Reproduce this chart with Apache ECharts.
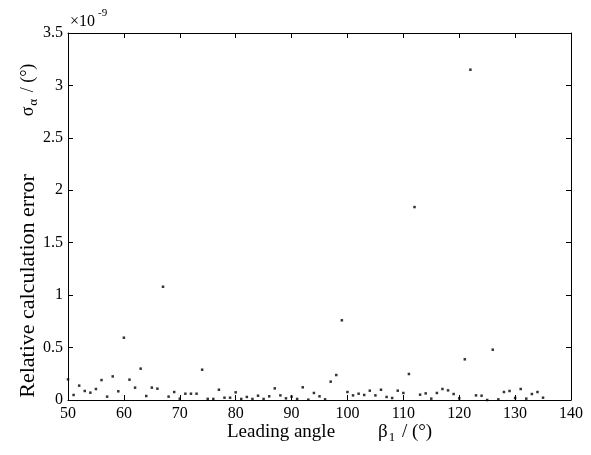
<!DOCTYPE html>
<html>
<head>
<meta charset="utf-8">
<script src="https://cdn.jsdelivr.net/npm/echarts@6/dist/echarts.min.js"></script>
<style>html,body{margin:0;padding:0;background:#fff;}#c{width:591px;height:455px;}</style>
</head>
<body>
<div id="c"></div>
<script>
// Leading angle beta_1 (degrees)
const angles = [50,51,52,53,54,55,56,57,58,59,60,61,62,63,64,65,66,67,68,69,70,71,72,73,74,75,76,77,78,79,80,81,82,83,84,85,86,87,88,89,90,91,92,93,94,95,96,97,98,99,100,101,102,103,104,105,106,107,108,109,110,111,112,113,114,115,116,117,118,119,120,121,122,123,124,125,126,127,128,129,130,131,132,133,134,135];
// Relative calculation error, in units of 1e-9
const errors = [0.197,0.048,0.137,0.086,0.07,0.105,0.19,0.032,0.225,0.083,0.594,0.194,0.118,0.299,0.038,0.118,0.108,1.08,0.032,0.076,0.013,0.06,0.06,0.06,0.289,0.011,0.01,0.098,0.022,0.022,0.073,0.01,0.029,0.01,0.041,0.01,0.035,0.111,0.044,0.016,0.032,0.01,0.121,0.003,0.067,0.035,0.006,0.175,0.238,0.76,0.076,0.044,0.06,0.048,0.089,0.044,0.098,0.029,0.019,0.089,0.067,0.248,1.84,0.051,0.063,0.013,0.067,0.105,0.092,0.057,0.016,0.388,3.15,0.044,0.041,0.0,0.48,0.006,0.076,0.086,0.019,0.105,0.013,0.057,0.076,0.022];
const xTicks = [50,60,70,80,90,100,110,120,130,140];
const yTicks = [0,0.5,1,1.5,2,2.5,3,3.5];

const FONT = '"Liberation Serif", "DejaVu Serif", serif';
const lineStyle = {color:'#000', width:1};
const chart = echarts.init(document.getElementById('c'));
const pts = angles.map((a,i)=>[a, errors[i]]);

function richLabel(size){
  return {
    t:{fontFamily:FONT, fontSize:size, fill:'#000', color:'#000'},
    sub:{fontFamily:FONT, fontSize:Math.round(size*0.7), fill:'#000', color:'#000', padding:[Math.round(size*0.6),2,0,1]}
  };
}

chart.setOption({
  animation:false,
  backgroundColor:'#fff',
  grid:{left:68, right:20, top:33, bottom:55, containLabel:false},
  xAxis:[
    {type:'value', min:xTicks[0], max:xTicks[xTicks.length-1], interval:10, position:'bottom',
     axisLine:{show:true, onZero:false, lineStyle}, axisTick:{show:true, inside:true, length:5, lineStyle},
     axisLabel:{color:'#000', fontFamily:FONT, fontSize:16, margin:6},
     splitLine:{show:false}},
    {type:'value', min:xTicks[0], max:xTicks[xTicks.length-1], interval:10, position:'top',
     axisLine:{show:true, onZero:false, lineStyle}, axisTick:{show:true, inside:true, length:5, lineStyle},
     axisLabel:{show:false}, splitLine:{show:false}}
  ],
  yAxis:[
    {type:'value', min:0, max:3.5, interval:0.5, position:'left',
     axisLine:{show:true, onZero:false, lineStyle}, axisTick:{show:true, inside:true, length:5, lineStyle},
     axisLabel:{color:'#000', fontFamily:FONT, fontSize:16, margin:5},
     splitLine:{show:false}},
    {type:'value', min:0, max:3.5, interval:0.5, position:'right',
     axisLine:{show:true, onZero:false, lineStyle}, axisTick:{show:true, inside:true, length:5, lineStyle},
     axisLabel:{show:false}, splitLine:{show:false}}
  ],
  graphic:[
    {type:'text', x:70, y:14, style:{text:'×10', font:'16px '+FONT, fill:'#000'}},
    {type:'text', x:98, y:8, style:{text:'-9', font:'11px '+FONT, fill:'#000'}},
    // x-axis title
    {type:'text', x:281, y:432, style:{text:'Leading angle', font:'19px '+FONT, fill:'#000', align:'center', verticalAlign:'middle'}},
    {type:'text', x:378, y:432, style:{text:'{t|β}{sub|1}{t| / (°)}', rich:richLabel(19), fill:'#000', align:'left', verticalAlign:'middle'}},
    // y-axis title (rotated)
    {type:'text', x:28, y:286, rotation:Math.PI/2, style:{text:'Relative calculation error', font:'22px '+FONT, fill:'#000', align:'center', verticalAlign:'middle'}},
    {type:'text', x:28, y:90, rotation:Math.PI/2, style:{text:'{t|σ}{sub|α}{t| / (°)}', rich:richLabel(18), fill:'#000', align:'center', verticalAlign:'middle'}}
  ],
  series:[{
    type:'scatter', xAxisIndex:0, yAxisIndex:0, data:pts,
    symbol:'rect', symbolSize:2.5, itemStyle:{color:'#000'}, silent:true
  }]
});
</script>
</body>
</html>
